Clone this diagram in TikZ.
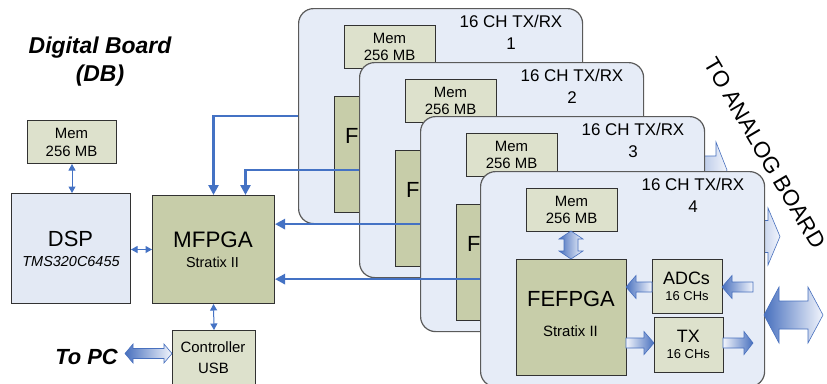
\documentclass[tikz,border=0pt]{standalone}
\usepackage{fontspec}
\setmainfont{Liberation Sans}
\usetikzlibrary{arrows.meta,calc}
\definecolor{boardfill}{RGB}{230,236,247}
\definecolor{boardline}{RGB}{90,90,90}
\definecolor{dspfill}{RGB}{227,233,244}
\definecolor{memfill}{RGB}{221,225,204}
\definecolor{fpgafill}{RGB}{199,205,169}
\definecolor{boxline}{RGB}{50,50,50}
\definecolor{lineblue}{RGB}{68,114,196}
\definecolor{arrdark}{RGB}{72,112,190}
\definecolor{arrlight}{RGB}{242,245,252}
\newcommand{\fs}[1]{\fontsize{#1}{#1}\selectfont}
% right-pointing block arrow: x1, x2 (head), y, shaft half, head half, head length
\newcommand{\arrR}[6]{\draw[arrshape, left color=arrlight, right color=arrdark] (#1,{#3-#4}) -- ({#2-#6},{#3-#4}) -- ({#2-#6},{#3-#5}) -- (#2,#3) -- ({#2-#6},{#3+#5}) -- ({#2-#6},{#3+#4}) -- (#1,{#3+#4}) -- cycle;}
% left-pointing block arrow: x1 (head), x2, y, ...
\newcommand{\arrL}[6]{\draw[arrshape, left color=arrdark, right color=arrlight] (#2,{#3-#4}) -- ({#1+#6},{#3-#4}) -- ({#1+#6},{#3-#5}) -- (#1,#3) -- ({#1+#6},{#3+#5}) -- ({#1+#6},{#3+#4}) -- (#2,{#3+#4}) -- cycle;}
% double horizontal block arrow
\newcommand{\arrD}[6]{\draw[arrshape, left color=arrdark, right color=arrlight] (#1,#3) -- ({#1+#6},{#3-#5}) -- ({#1+#6},{#3-#4}) -- ({#2-#6},{#3-#4}) -- ({#2-#6},{#3-#5}) -- (#2,#3) -- ({#2-#6},{#3+#5}) -- ({#2-#6},{#3+#4}) -- ({#1+#6},{#3+#4}) -- ({#1+#6},{#3+#5}) -- cycle;}
% double vertical block arrow: y1, y2, x, ...
\newcommand{\arrV}[6]{\draw[arrshape, left color=arrdark, right color=arrlight] (#3,#1) -- ({#3+#5},{#1+#6}) -- ({#3+#4},{#1+#6}) -- ({#3+#4},{#2-#6}) -- ({#3+#5},{#2-#6}) -- (#3,#2) -- ({#3-#5},{#2-#6}) -- ({#3-#4},{#2-#6}) -- ({#3-#4},{#1+#6}) -- ({#3-#5},{#1+#6}) -- cycle;}
\newcommand{\board}[4]{%
\begin{scope}[shift={(#2,#3)}]
\node[boardbox] (b#1) at (0,0) {};
\node[txt, font=\fs{17}] (bh#1) at (213,19) {16 CH TX/RX};
\node[txt, font=\fs{17}] (bn#1) at (213,41) {#4};
\node[box, fill=memfill, minimum width=91bp, minimum height=43bp] (bm#1) at (46,17) {};
\node[txt, font=\fs{15}] (bmt#1) at (91.5,35) {Mem};
\node[txt, font=\fs{15}] (bms#1) at (91.5,52.5) {256 MB};
\node[box, fill=fpgafill, minimum width=110bp, minimum height=116bp] (bf#1) at (36,88) {};
\node[txt, font=\fs{22}] (bft#1) at (91,135.7) {FEFPGA};
\node[box, fill=memfill, minimum width=70bp, minimum height=54bp] (ba#1) at (172,88) {};
\node[box, fill=memfill, minimum width=69bp, minimum height=55bp] (bt#1) at (174,146) {};
\ifnum#1=4
\node[txt, font=\fs{15}] (bfs#1) at (90.5,165) {Stratix II};
\node[txt, font=\fs{18}] (bat#1) at (206.5,113) {ADCs};
\node[txt, font=\fs{13}] (bas#1) at (207,129.7) {16 CHs};
\node[txt, font=\fs{18}] (btt#1) at (208.3,171.7) {TX};
\node[txt, font=\fs{13}] (bts#1) at (208.3,187.3) {16 CHs};
\fi
\arrV{60}{88}{91}{7}{12}{8}
\arrL{146}{172}{116}{5}{11.5}{10}
\arrL{242}{273}{116}{5}{11.5}{10}
\arrR{146}{174}{172}{5}{11.5}{10}
\arrR{243}{273}{172}{5}{11.5}{9}
\end{scope}}
\begin{document}
\begin{tikzpicture}[x=1bp,y=-1bp,
  txt/.style={inner sep=0pt, anchor=base},
  box/.style={draw=boxline, line width=1bp, inner sep=0pt, anchor=north west},
  boardbox/.style={draw=boardline, line width=1.2bp, fill=boardfill, rounded corners=15bp, inner sep=0pt, anchor=north west, minimum width=284bp, minimum height=215bp},
  arrshape/.style={draw=arrdark, line width=0.6bp, line join=miter},
  conn/.style={draw=lineblue, line width=2.5bp, -{Triangle[length=10bp,width=10bp]}},
  thinarr/.style={draw=lineblue, line width=1bp, {Triangle[length=6.5bp,width=7bp]}-{Triangle[length=6.5bp,width=7bp]}}]
\useasboundingbox (0,0) rectangle (827,383);
\clip (0,0) rectangle (827,383);
% Digital board
\node[txt, font=\fs{23}\bfseries\itshape] (title1) at (100,53) {Digital Board};
\node[txt, font=\fs{23}\bfseries\itshape] (title2) at (100,81) {(DB)};
\node[box, fill=memfill, minimum width=89bp, minimum height=43bp] (dbmem) at (27,120) {};
\node[txt, font=\fs{15}] (dbmemt) at (71.5,138) {Mem};
\node[txt, font=\fs{15}] (dbmems) at (71.5,156) {256 MB};
\node[box, fill=dspfill, minimum width=119bp, minimum height=110bp] (dsp) at (11,193) {};
\node[txt, font=\fs{22}] (dspt) at (70.5,246) {DSP};
\node[txt, font=\fs{14.5}\itshape] (dsps) at (71,266.5) {TMS320C6455};
\node[box, fill=fpgafill, minimum width=122bp, minimum height=108bp] (mfpga) at (152,195) {};
\node[txt, font=\fs{22.5}] (mfpgat) at (213,247) {MFPGA};
\node[txt, font=\fs{14.5}] (mfpgas) at (212.5,267) {Stratix II};
\node[box, fill=memfill, minimum width=83bp, minimum height=60bp] (usb) at (172,330) {};
\node[txt, font=\fs{15}] (usbt) at (213,352.5) {Controller};
\node[txt, font=\fs{15}] (usbs) at (213.5,373) {USB};
\node[txt, font=\fs{22}\bfseries\itshape] (topc) at (86.5,364) {To PC};
\arrD{125}{172}{353.5}{5}{9.5}{8}
\draw[thinarr] (dbmem.south) -- (dbmem.south |- dsp.north);
\draw[thinarr] (dsp.east |- mfpga.west) -- (mfpga.west);
\draw[thinarr] (mfpga.south) -- (usb.north);
% boards
\board{1}{298}{8}{1}
\draw[conn] (b1.west) -| (mfpga.north);
\board{2}{359}{62}{2}
\draw[conn] (b2.west) -| ([xshift=32bp]mfpga.north);
\arrD{652}{727}{170}{14}{28}{11}
\board{3}{420}{116}{3}
\draw[conn] (b3.west) -- (b3.west -| mfpga.east);
\arrD{712}{780}{236.5}{16}{28.5}{12}
\board{4}{480}{171}{4}
\draw[conn] (b4.west) -- (b4.west -| mfpga.east);
\arrD{764}{823}{315}{14}{28}{15}
\node[inner sep=0pt, font=\fs{22.5}, rotate=-59.5] (toanalog) at (765,153) {TO ANALOG BOARD};
\end{tikzpicture}
\end{document}
